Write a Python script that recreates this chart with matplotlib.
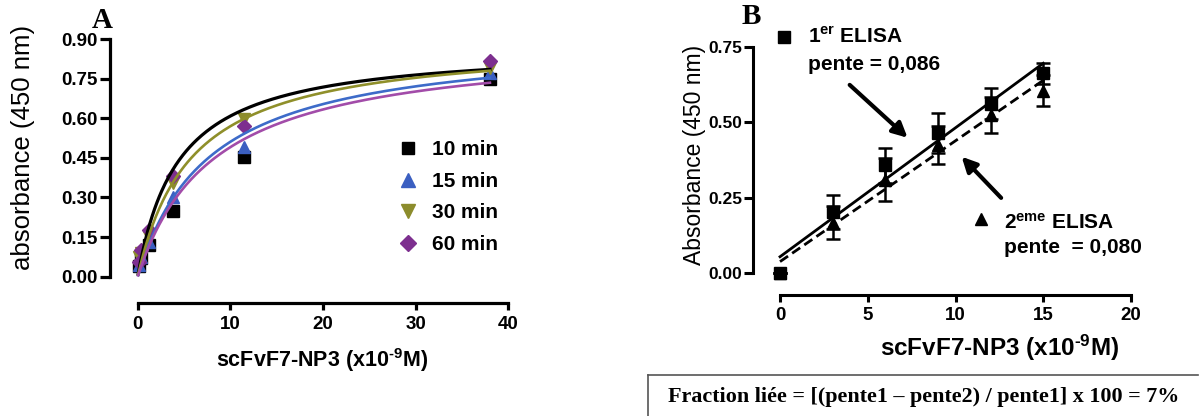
import matplotlib
matplotlib.use('Agg')
import matplotlib.pyplot as plt
import numpy as np
from matplotlib.lines import Line2D

plt.rcParams['font.family'] = ['Liberation Sans', 'DejaVu Sans']
plt.rcParams['mathtext.fontset'] = 'custom'
plt.rcParams['mathtext.rm'] = 'Liberation Sans'
plt.rcParams['mathtext.bf'] = 'Liberation Sans:bold'
plt.rcParams['mathtext.default'] = 'bf'

# --- panel A data: saturation binding at different incubation times ---
conc_a = [0.12, 0.37, 1.2, 3.8, 11.5, 38]
abs_10 = [0.040, 0.070, 0.120, 0.250, 0.455, 0.747]
abs_15 = [0.045, 0.075, 0.130, 0.300, 0.490, 0.770]
abs_30 = [0.075, 0.090, 0.150, 0.355, 0.597, 0.790]
abs_60 = [0.055, 0.100, 0.177, 0.380, 0.570, 0.815]
series_labels = ['10 min', '15 min', '30 min', '60 min']
# one-site fit parameters (Bmax, Kd)
fit_bmax = [0.876, 0.907, 0.898, 0.893]
fit_kd = [4.4, 7.75, 5.76, 8.2]

# --- panel B data: two ELISA runs ---
conc_b = [0, 3, 6, 9, 12, 15]
elisa1 = [0.0, 0.202, 0.358, 0.464, 0.562, 0.664]
elisa1_err = [0.0, 0.057, 0.058, 0.067, 0.052, 0.035]
elisa2 = [0.0, 0.166, 0.309, 0.425, 0.525, 0.606]
elisa2_err = [0.0, 0.055, 0.072, 0.064, 0.059, 0.051]

W, H = 1199, 416
fig = plt.figure(figsize=(W / 100, H / 100), dpi=100)

xlab = 'scFvF7-NP3 (x10$^{\\mathbf{\u20109}}$M)'

# ---------------- Panel A ----------------
axA = fig.add_axes([109.9 / W, (H - 303.1) / H, 403.2 / W, 272 / H])
axA.set_xlim(-3.0, 40.5)
axA.set_ylim(-0.10, 0.93)

colors = ['black', '#3b5fc1', '#8c8c2c', '#7d2f8f']
curve_colors = ['black', '#3d6bc9', '#8f8f2a', '#a24ca9']
markers = ['s', '^', 'v', 'D']
msizes = [8, 9, 9, 7.5]
all_abs = [abs_10, abs_15, abs_30, abs_60]

for vals, c, m, ms, lab in zip(all_abs, colors, markers, msizes, series_labels):
    axA.plot(conc_a, vals, linestyle='none', marker=m, ms=ms, color=c,
             label=lab, zorder=2, clip_on=False)

xfit = np.linspace(0.05, 38, 300)
for bmax, kd, c, lw in zip(fit_bmax, fit_kd, curve_colors, [2.3, 1.9, 1.9, 1.9]):
    axA.plot(xfit, bmax * xfit / (kd + xfit), color=c, lw=lw, zorder=3)

for s in ['top', 'right']:
    axA.spines[s].set_visible(False)
axA.spines['left'].set_bounds(0, 0.9)
axA.spines['bottom'].set_bounds(0, 40)
axA.spines['left'].set_linewidth(2.3)
axA.spines['bottom'].set_linewidth(2.3)
axA.set_yticks([0, 0.15, 0.30, 0.45, 0.60, 0.75, 0.90])
axA.set_yticklabels(['0.00', '0.15', '0.30', '0.45', '0.60', '0.75', '0.90'])
axA.set_xticks([0, 10, 20, 30, 40])
axA.tick_params(axis='y', length=7.5, width=2.3, pad=1, labelsize=13.5)
axA.tick_params(axis='x', length=5, width=2.3, pad=4, labelsize=13.5)
for t in axA.get_xticklabels() + axA.get_yticklabels():
    t.set_fontweight('bold')

axA.set_ylabel('absorbance (450 nm)', fontsize=18.5, va='center')
axA.yaxis.set_label_coords(-0.2155, 0.572)
axA.set_xlabel(xlab, fontsize=15.5, fontweight='bold', va='center')
axA.xaxis.set_label_coords(0.526, -0.209)

axA.legend(loc='upper left', bbox_to_anchor=(0.7145, 0.598), frameon=False,
           borderpad=0, borderaxespad=0, handlelength=1.0, handletextpad=0.65,
           labelspacing=0.6, markerscale=1.1,
           prop={'weight': 'bold', 'size': 15})

fig.text(102 / W, 1 - 21 / H, 'A', family=['Liberation Serif', 'DejaVu Serif'],
         fontweight='bold', fontsize=21, ha='center', va='center')

# ---------------- Panel B ----------------
axB = fig.add_axes([753 / W, (H - 295) / H, 385 / W, 262.7 / H])
axB.set_xlim(-1.54, 20.4)
axB.set_ylim(-0.0742, 0.80)

axB.errorbar(conc_b, elisa1, yerr=elisa1_err, fmt='s', ms=8, color='black',
             ecolor='black', elinewidth=1.8, capsize=5, capthick=1.8,
             zorder=3, clip_on=False)
axB.errorbar(conc_b, elisa2, yerr=elisa2_err, fmt='^', ms=8.5, color='black',
             ecolor='black', elinewidth=1.8, capsize=5, capthick=1.8,
             zorder=3, clip_on=False)

xline = np.array([0, 15])
p1 = np.polyfit(conc_b, elisa1, 1)
p2 = np.polyfit(conc_b, elisa2, 1)
axB.plot(xline, np.polyval(p1, xline), color='black', lw=2.0, zorder=2)
axB.plot(xline, np.polyval(p2, xline), color='black', lw=2.0, ls=(0, (3.5, 1.8)),
         zorder=2)

for s in ['top', 'right']:
    axB.spines[s].set_visible(False)
axB.spines['left'].set_bounds(0, 0.75)
axB.spines['bottom'].set_bounds(0, 20)
axB.spines['left'].set_linewidth(2.2)
axB.spines['bottom'].set_linewidth(2.2)
axB.set_yticks([0, 0.25, 0.50, 0.75])
axB.set_yticklabels(['0.00', '0.25', '0.50', '0.75'])
axB.set_xticks([0, 5, 10, 15, 20])
axB.tick_params(axis='y', length=6.5, width=2.2, pad=1, labelsize=12.5)
axB.tick_params(axis='x', length=5, width=2.2, pad=4, labelsize=13.5)
for t in axB.get_xticklabels() + axB.get_yticklabels():
    t.set_fontweight('bold')

axB.set_ylabel('Absorbance (450 nm)', fontsize=16.5, va='center')
axB.yaxis.set_label_coords(-0.152, 0.533)
axB.set_xlabel(xlab, fontsize=17.5, fontweight='bold', va='center')
axB.xaxis.set_label_coords(0.6416, -0.2017)

# annotations
axB.plot([0.23], [0.783], marker='s', ms=8, color='black', clip_on=False)
axB.text(1.6, 0.785, '1$^{\\mathbf{er}}$ ELISA', fontsize=15, fontweight='bold',
         va='center', ha='left')
axB.text(1.6, 0.693, 'pente = 0,086', fontsize=15, fontweight='bold',
         va='center', ha='left')
axB.plot([11.43], [0.178], marker='^', ms=8.5, color='black', clip_on=False)
axB.text(12.75, 0.168, '2$^{\\mathbf{eme}}$ ELISA', fontsize=15, fontweight='bold',
         va='center', ha='left')
axB.text(12.75, 0.085, 'pente  = 0,080', fontsize=15, fontweight='bold',
         va='center', ha='left')

arrow = dict(arrowstyle='-|>', color='black', lw=3, mutation_scale=22,
             shrinkA=0, shrinkB=0)
axB.annotate('', xy=(7.27, 0.449), xytext=(3.97, 0.625), arrowprops=arrow)
axB.annotate('', xy=(10.35, 0.386), xytext=(12.6, 0.249), arrowprops=arrow)

fig.text(751.5 / W, 1 - 17 / H, 'B', family=['Liberation Serif', 'DejaVu Serif'],
         fontweight='bold', fontsize=21, ha='center', va='center')

# formula box
fig.add_artist(Line2D([648 / W, 1198 / W], [1 - 375 / H, 1 - 375 / H],
                      color='#555555', lw=1.2))
fig.add_artist(Line2D([648 / W, 648 / W], [1 - 375 / H, 0], color='#555555',
                      lw=1.2))
fig.text(668 / W, 1 - 397 / H,
         'Fraction liée = [(pente1 \u2013 pente2) / pente1] x 100 = 7%',
         family=['Liberation Serif', 'DejaVu Serif'], fontweight='bold',
         fontsize=15.9, ha='left', va='center')

fig.savefig('out.png', dpi=100)
